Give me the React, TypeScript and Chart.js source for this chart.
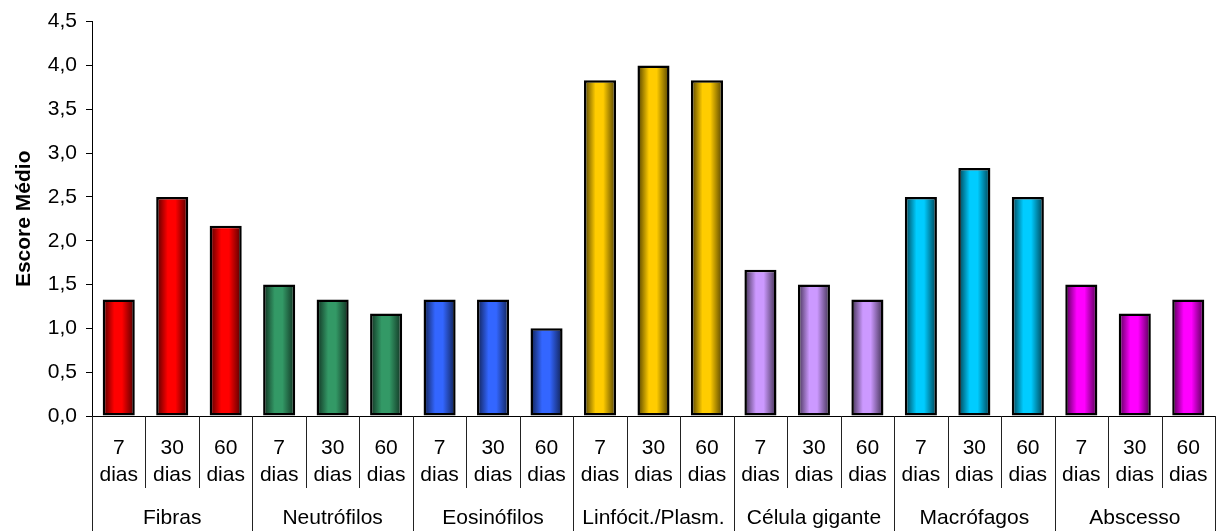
import React, { useEffect, useRef } from 'react';
import { Chart, registerables } from 'chart.js';

Chart.register(...registerables);

// Histological criteria (groups) and observation periods
const groups = ['Fibras', 'Neutrófilos', 'Eosinófilos', 'Linfócit./Plasm.', 'Célula gigante', 'Macrófagos', 'Abscesso'];
const periods = ['7 dias', '30 dias', '60 dias'];

// Mean scores per group, in period order (7, 30, 60 dias)
const fibras = [1.33, 2.5, 2.17];
const neutrofilos = [1.5, 1.33, 1.17];
const eosinofilos = [1.33, 1.33, 1.0];
const linfocitosPlasmocitos = [3.83, 4.0, 3.83];
const celulaGigante = [1.67, 1.5, 1.33];
const macrofagos = [2.5, 2.83, 2.5];
const abscesso = [1.5, 1.17, 1.33];

const groupColors = ['#FF0000', '#339966', '#3366FF', '#FFCC00', '#CC99FF', '#00CCFF', '#FF00FF'];

const yMin = 0;
const yMax = 4.5;
const yStep = 0.5;
const yTitle = 'Escore Médio';

const groupValues = [fibras, neutrofilos, eosinofilos, linfocitosPlasmocitos, celulaGigante, macrofagos, abscesso];
const labels = groups.flatMap((g) => periods.map((p) => `${g} ${p}`));
const values = groupValues.flat();
const barColors = groupColors.flatMap((c) => periods.map(() => c));

const FONT = "'Liberation Sans', Arial, sans-serif";
const BAR_PCT = 0.6;

function shade(hex: string, f: number): string {
  const n = parseInt(hex.slice(1), 16);
  const r = Math.round(((n >> 16) & 255) * f);
  const g = Math.round(((n >> 8) & 255) * f);
  const b = Math.round((n & 255) * f);
  return `rgb(${r},${g},${b})`;
}

// Two-level category axis: period labels with separators, then group names
const groupAxis = {
  id: 'groupAxis',
  afterDraw(chart: any) {
    const { ctx, chartArea, scales } = chart;
    const x = scales.x;
    const n = labels.length;
    const w = (chartArea.right - chartArea.left) / n;
    const base = chartArea.bottom;
    const bottom = chart.height;
    ctx.save();
    ctx.strokeStyle = '#222';
    ctx.lineWidth = 1;
    for (let k = 0; k <= n; k++) {
      const px = Math.round(x.getPixelForValue(k) - w / 2) + 0.5;
      const end = k % periods.length === 0 ? bottom : base + 72;
      ctx.beginPath();
      ctx.moveTo(px, base);
      ctx.lineTo(px, end);
      ctx.stroke();
    }
    ctx.fillStyle = '#000';
    ctx.textAlign = 'center';
    ctx.textBaseline = 'alphabetic';
    ctx.font = `21px ${FONT}`;
    for (let i = 0; i < n; i++) {
      const cx = x.getPixelForValue(i);
      const [num, unit] = periods[i % periods.length].split(' ');
      ctx.fillText(num, cx, base + 38);
      ctx.fillText(unit, cx, base + 65);
    }
    groups.forEach((g, gi) => {
      const first = x.getPixelForValue(gi * periods.length);
      const last = x.getPixelForValue(gi * periods.length + periods.length - 1);
      ctx.fillText(g, (first + last) / 2, base + 108);
    });
    ctx.restore();
  },
};

export default function App() {
  const canvasRef = useRef<HTMLCanvasElement | null>(null);

  useEffect(() => {
    if (!canvasRef.current) return;
    const chart = new Chart(canvasRef.current, {
      type: 'bar',
      data: {
        labels,
        datasets: [
          {
            data: values,
            backgroundColor: (c: any) => {
              const color = barColors[c.dataIndex] || '#888';
              const chartObj = c.chart;
              const xs = chartObj.scales?.x;
              if (!xs || !chartObj.chartArea || c.dataIndex === undefined) return color;
              const center = xs.getPixelForValue(c.dataIndex);
              const bw = (xs.width / labels.length) * BAR_PCT;
              const grad = chartObj.ctx.createLinearGradient(center - bw / 2, 0, center + bw / 2, 0);
              grad.addColorStop(0, shade(color, 0.3));
              grad.addColorStop(0.36, color);
              grad.addColorStop(0.6, color);
              grad.addColorStop(1, shade(color, 0.3));
              return grad;
            },
            borderColor: '#000',
            borderWidth: 2.5,
            borderSkipped: false,
            categoryPercentage: 1,
            barPercentage: BAR_PCT,
          },
        ],
      },
      options: {
        animation: false,
        responsive: true,
        maintainAspectRatio: false,
        layout: { padding: { top: 21, right: 11, bottom: 107, left: 0 } },
        plugins: {
          legend: { display: false },
          tooltip: { enabled: false },
        },
        scales: {
          x: {
            type: 'category',
            grid: { display: false },
            ticks: { display: false },
            border: { display: true, color: '#000', width: 1 },
          },
          y: {
            min: yMin,
            max: yMax,
            afterFit: (scale: any) => {
              scale.width = 92;
            },
            ticks: {
              stepSize: yStep,
              color: '#000',
              font: { family: FONT, size: 21 },
              padding: 9,
              callback: (v: any) => Number(v).toFixed(1).replace('.', ','),
            },
            grid: { display: true, drawOnChartArea: false, drawTicks: true, tickLength: 6, color: '#000' },
            border: { display: true, color: '#000', width: 1 },
            title: {
              display: true,
              text: yTitle,
              color: '#000',
              font: { family: FONT, size: 21, weight: 'bold' },
              padding: { top: 12, bottom: 0 },
            },
          },
        },
      },
      plugins: [groupAxis],
    });
    return () => chart.destroy();
  }, []);

  return (
    <div style={{ position: 'fixed', left: 0, top: 0, width: 1226, height: 531, background: '#fff' }}>
      <canvas ref={canvasRef} />
    </div>
  );
}
